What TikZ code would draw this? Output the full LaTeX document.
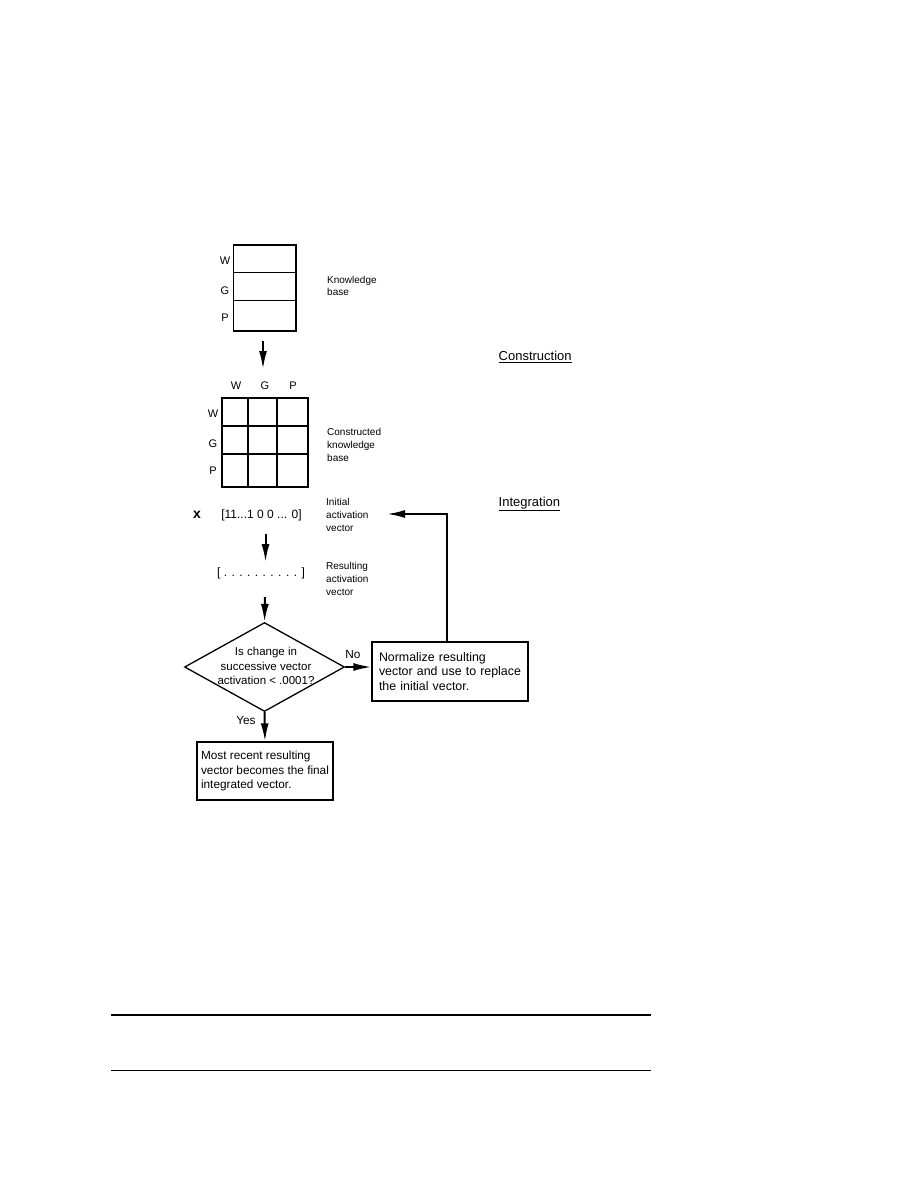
\documentclass[tikz,border=0pt]{standalone}
\usepackage{fontspec}
\setmainfont{Liberation Sans}
\usetikzlibrary{shapes.geometric,arrows.meta,calc}
\begin{document}
\begin{tikzpicture}[x=1pt,y=-1pt,
  lbl/.style={inner sep=0pt,align=left,anchor=west,font=\fontsize{10}{12.6}\selectfont},
  axl/.style={inner sep=0pt,font=\fontsize{11}{13}\selectfont},
  cell/.style={draw,line width=1.3pt},
  flow/.style={line width=2pt,-{Latex[length=18pt,width=8pt]}},
  ftxt/.style={font=\fontsize{11.8}{14.2}\selectfont},
  fbox/.style={draw,line width=1.3pt,align=left,inner sep=0pt,ftxt},
  headlbl/.style={inner sep=0pt,anchor=west,font=\fontsize{13}{15}\selectfont},
  vec/.style={inner sep=0pt,font=\fontsize{12}{14}\selectfont},
  rule/.style={line width=2pt}
]
\useasboundingbox (0,0) rectangle (918,1188);

% Knowledge base column
\draw[cell] (233.5,245) rectangle (296,272.5);
\draw[cell] (233.5,272.5) rectangle (296,300.5);
\draw[cell] (233.5,300.5) rectangle (296,331);
\node[axl] (kbw) at (225,261) {W};
\node[axl] (kbg) at (225,291) {G};
\node[axl] (kbp) at (225,318) {P};
\node[lbl] (kblbl) at (327,286) {Knowledge\\base};

% arrow 1
\coordinate (a1s) at (263,341);
\coordinate (a1e) at (263,369);
\draw[flow] (a1s) -- (a1e);

\node[headlbl] (constr) at (498.5,357) {\underline{Construction}};

% constructed grid
\foreach \ya/\yb in {398/426,426/454,454/487}
  \foreach \xa/\xb in {222/248,248/277,277/308}
    \draw[cell] (\xa,\ya) rectangle (\xb,\yb);
\node[axl] (cw) at (236,386) {W};
\node[axl] (cg) at (265,386) {G};
\node[axl] (cp) at (293,386) {P};
\node[axl] (rw) at (213,414) {W};
\node[axl] (rg) at (213,444) {G};
\node[axl] (rp) at (213,471) {P};
\node[lbl] (cklbl) at (327,445) {Constructed\\knowledge\\base};

% vectors
\node[inner sep=0pt,font=\fontsize{14}{16}\selectfont\bfseries] (xx) at (197,515) {x};
\node[vec] (init) at (261.5,515) {[11...1 0 0 ... 0]};
\node[lbl] (initlbl) at (326,515) {Initial\\activation\\vector};
\node[headlbl] (integ) at (498.5,504) {\underline{Integration}};

\coordinate (a2s) at (265.5,534);
\coordinate (a2e) at (265.5,562);
\draw[flow] (a2s) -- (a2e);

\node[vec] (res) at (261,573) {[ . . . . . . . . . . ]};
\node[lbl] (reslbl) at (326,579) {Resulting\\activation\\vector};

% decision
\node[diamond,draw,line width=1.3pt,minimum width=160pt,minimum height=89pt,inner sep=0pt] (dia) at (264.5,667) {};
\node[align=center,inner sep=0pt,font=\fontsize{11.5}{14.2}\selectfont] (diatxt) at (266,666) {Is change in\\successive vector\\activation < .0001?};

\coordinate (a3s) at (265,597);
\draw[flow] (a3s) -- (dia.north);

% normalize box
\node[fbox,font=\fontsize{12.4}{14.2}\selectfont,minimum width=156pt,minimum height=59pt,text width=142pt] (norm) at (450,671.5) {Normalize resulting\\vector and use to replace\\the initial vector.};
\draw[flow] (dia.east) -- (dia.east -| norm.west);
\node[ftxt,inner sep=0pt] (no) at (353,654) {No};

% feedback
\coordinate (fb) at (387,514);
\draw[flow] ([xshift=-3pt]norm.north) |- (fb);

% final box
\node[fbox,minimum width=136pt,minimum height=58pt] (final) at (265,771) {Most recent resulting\\vector becomes the final\\integrated vector.};
\draw[flow] (dia.south) -- (final.north);
\node[ftxt,inner sep=0pt] (yes) at (246,720) {Yes};

% rules
\coordinate (r1a) at (111,1015);
\coordinate (r1b) at (651,1015);
\draw[rule] (r1a) -- (r1b);
\coordinate (r2a) at (111,1070.5);
\coordinate (r2b) at (651,1070.5);
\draw[line width=1.2pt] (r2a) -- (r2b);
\end{tikzpicture}
\end{document}
